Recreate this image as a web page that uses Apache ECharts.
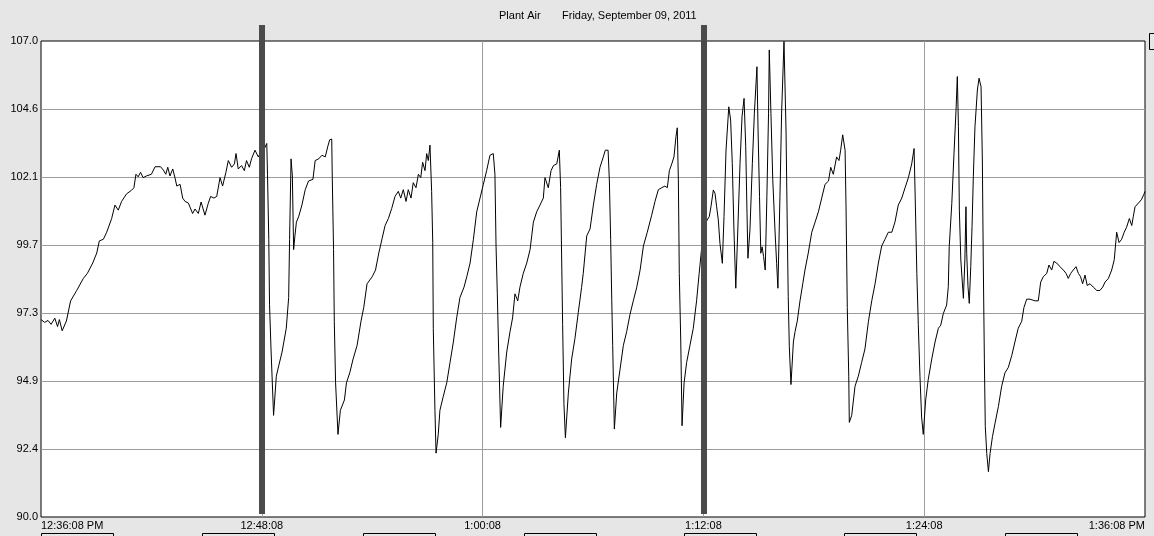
<!DOCTYPE html>
<html>
<head>
<meta charset="utf-8">
<script src="https://cdn.jsdelivr.net/npm/echarts/dist/echarts.min.js"></script>
<style>
html,body{margin:0;padding:0;background:#e6e6e6;}
#chart{width:1154px;height:536px;}
</style>
</head>
<body>
<div id="chart"></div>
<script>
// ---- data (minutes after 12:36:08 PM, pressure) ----
const minutes = [
0.00,0.20,0.38,0.55,0.75,0.90,1.00,1.15,1.38,1.61,1.94,2.30,2.52,2.81,3.03,3.17,3.39,3.57,3.84,4.02,
4.20,4.38,4.65,4.92,5.05,5.16,5.28,5.41,5.55,5.73,6.00,6.20,6.50,6.65,6.78,6.89,7.01,7.16,7.28,7.38,
7.56,7.70,7.83,8.01,8.24,8.37,8.55,8.70,8.91,9.09,9.22,9.40,9.55,9.73,9.87,10.05,10.18,10.36,10.51,10.60,
10.72,10.90,11.05,11.17,11.32,11.44,11.63,11.81,11.96,12.10,12.27,12.31,12.38,12.42,12.50,12.64,12.79,12.92,13.10,13.33,
13.46,13.51,13.59,13.66,13.73,13.80,13.88,14.00,14.18,14.36,14.54,14.78,14.90,15.09,15.27,15.45,15.58,15.69,15.80,15.83,
15.90,15.94,16.01,16.14,16.27,16.49,16.60,16.78,16.96,17.18,17.39,17.54,17.72,18.00,18.18,18.36,18.54,18.70,18.88,19.06,
19.24,19.42,19.55,19.69,19.84,19.96,20.11,20.23,20.38,20.51,20.64,20.74,20.87,20.96,21.05,21.14,21.23,21.29,21.32,21.41,
21.47,21.59,21.68,21.86,22.05,22.23,22.41,22.59,22.77,22.99,23.14,23.32,23.50,23.68,23.86,24.04,24.22,24.40,24.58,24.67,
24.73,24.80,24.87,24.98,25.12,25.31,25.49,25.63,25.76,25.91,26.03,26.21,26.40,26.58,26.76,26.94,27.12,27.30,27.39,27.57,
27.72,27.85,28.03,28.17,28.24,28.30,28.35,28.42,28.50,28.66,28.84,29.02,29.20,29.38,29.47,29.66,29.84,30.02,30.20,30.38,
30.56,30.67,30.82,30.89,30.96,31.02,31.07,31.16,31.29,31.47,31.65,31.83,32.01,32.19,32.38,32.56,32.74,32.95,33.19,33.37,
33.55,33.73,33.91,34.04,34.15,34.28,34.40,34.51,34.58,34.64,34.69,34.77,34.84,34.95,35.09,35.27,35.45,35.63,35.77,35.95,
36.10,36.21,36.32,36.41,36.54,36.63,36.72,36.81,36.90,37.03,37.12,37.23,37.38,37.48,37.57,37.66,37.76,37.87,37.99,38.10,
38.21,38.30,38.37,38.42,38.53,38.66,38.77,38.91,38.97,39.05,39.12,39.19,39.27,39.36,39.45,39.54,39.58,39.67,39.77,39.89,
39.98,40.05,40.16,40.25,40.38,40.49,40.56,40.61,40.67,40.76,40.89,40.98,41.10,41.25,41.40,41.52,41.70,41.89,42.07,42.25,
42.43,42.61,42.80,42.92,43.06,43.24,43.37,43.46,43.57,43.70,43.75,43.82,43.90,43.93,44.06,44.24,44.42,44.60,44.78,44.97,
45.15,45.33,45.51,45.69,45.87,46.05,46.24,46.41,46.59,46.78,46.96,47.14,47.32,47.45,47.52,47.60,47.68,47.77,47.86,47.95,
48.08,48.22,48.41,48.59,48.77,48.90,49.04,49.22,49.31,49.36,49.50,49.62,49.73,49.80,49.86,49.91,49.99,50.10,50.13,50.21,
50.27,50.31,50.38,50.45,50.53,50.60,50.67,50.76,50.89,50.98,51.09,51.16,51.21,51.27,51.32,51.40,51.49,51.58,51.71,51.85,
52.03,52.21,52.39,52.57,52.76,52.93,53.11,53.30,53.42,53.57,53.75,54.02,54.20,54.33,54.47,54.66,54.78,54.93,55.05,55.20,
55.38,55.56,55.71,55.83,55.96,56.10,56.25,56.38,56.50,56.61,56.74,56.86,57.01,57.19,57.38,57.55,57.70,57.83,58.01,58.19,
58.33,58.46,58.59,58.73,58.87,59.00,59.15,59.28,59.36,59.46,59.64,59.80,59.93,60.00
];
const pressure = [
97.05,96.95,97.02,96.88,97.10,96.80,97.05,96.65,97.00,97.72,98.09,98.52,98.70,99.07,99.43,99.86,99.92,100.17,100.66,101.14,
100.96,101.27,101.54,101.67,101.76,102.24,102.15,102.31,102.12,102.18,102.24,102.51,102.51,102.39,102.24,102.49,102.18,102.43,102.12,101.82,
101.88,101.39,101.27,101.21,100.84,101.00,100.84,101.25,100.78,101.20,101.45,101.39,101.45,102.12,101.82,102.31,102.73,102.49,102.61,102.98,
102.43,102.55,102.37,102.73,102.49,102.79,103.10,102.86,103.05,103.10,103.34,102.24,99.92,97.60,96.00,93.63,95.03,95.40,95.89,96.74,
97.84,99.92,102.79,102.18,99.55,100.04,100.53,100.72,101.14,101.69,102.00,102.06,102.73,102.79,102.92,102.86,103.22,103.47,103.50,102.12,
99.55,96.99,94.79,92.95,93.81,94.18,94.79,95.15,95.64,96.13,96.99,97.48,98.33,98.58,98.82,99.43,99.95,100.41,100.66,101.02,
101.45,101.63,101.39,101.69,101.27,101.69,101.39,101.94,101.76,102.24,102.12,102.67,102.37,102.98,102.73,103.28,101.63,99.80,96.74,93.81,
92.28,92.95,93.81,94.30,94.79,95.52,96.25,97.11,97.84,98.21,98.58,99.07,99.92,100.90,101.39,101.88,102.37,102.92,102.98,102.24,
99.68,97.97,96.00,93.20,94.67,95.89,96.62,97.11,97.97,97.72,98.21,98.70,99.07,99.55,100.53,100.90,101.14,101.39,102.12,101.76,
102.37,102.55,102.61,103.10,101.76,99.07,96.87,94.05,92.83,94.43,95.64,96.38,97.30,98.20,98.70,100.04,100.29,101.14,101.88,102.49,
102.86,103.10,103.10,102.00,99.92,97.72,96.13,93.14,94.43,95.28,96.13,96.62,97.23,97.72,98.21,98.82,99.68,100.17,100.78,101.27,
101.69,101.76,101.82,101.76,102.37,102.61,102.86,103.59,103.90,102.00,98.70,96.25,93.26,94.79,95.52,96.13,96.74,97.72,98.70,99.90,
100.50,100.61,100.73,101.08,101.68,101.56,101.08,100.61,99.77,99.06,100.73,103.11,104.65,104.18,102.63,100.25,98.17,100.25,102.63,104.30,
104.95,103.23,100.85,99.24,100.25,102.63,104.42,106.08,103.82,101.44,99.42,99.65,99.30,98.82,101.44,104.42,106.68,104.42,102.04,100.25,
99.06,98.17,101.44,104.42,106.98,103.82,100.25,97.87,96.08,94.73,96.25,96.62,96.99,97.72,98.33,98.82,99.43,100.17,100.53,100.90,
101.39,101.88,102.00,102.49,102.24,102.86,102.73,103.10,103.65,103.10,101.14,97.48,95.03,93.38,93.63,94.67,95.03,95.52,96.00,96.99,
97.72,98.33,99.07,99.68,99.92,100.17,100.17,100.53,101.14,101.39,101.76,102.12,102.61,103.16,101.14,98.70,96.87,95.03,93.57,92.95,
94.18,94.91,95.64,96.25,96.74,96.85,97.27,97.57,98.23,99.65,101.20,102.99,104.54,105.73,103.94,100.96,99.18,98.11,97.81,99.18,
101.08,99.42,98.23,97.63,98.94,100.37,102.15,103.94,105.25,105.67,105.37,102.75,99.18,95.61,93.23,92.27,91.62,92.27,92.87,93.35,
93.94,94.67,95.15,95.34,95.77,96.25,96.74,96.99,97.48,97.78,97.78,97.72,97.72,98.39,98.58,98.70,99.00,98.82,99.13,99.07,
98.94,98.82,98.70,98.52,98.70,98.82,98.94,98.70,98.58,98.33,98.64,98.27,98.33,98.21,98.09,98.09,98.21,98.39,98.52,98.82,
99.19,100.17,99.80,99.92,100.17,100.35,100.66,100.41,100.72,101.08,101.21,101.33,101.51,101.63
];
const xTickLabels = ['12:36:08 PM', '12:48:08', '1:00:08', '1:12:08', '1:24:08', '1:36:08 PM'];
const yTickLabels = ['90.0', '92.4', '94.9', '97.3', '99.7', '102.1', '104.6', '107.0'];
const markerMinutes = [12, 36];
const titleParts = ['Plant Air', 'Friday, September 09, 2011'];

// ---- scale settings ----
const X_MIN = 0, X_MAX = 60, X_STEP = 12;
const Y_MIN = 90, Y_MAX = 107, Y_STEP = (Y_MAX - Y_MIN) / (yTickLabels.length - 1);

const FONT = 'Liberation Sans, Arial, sans-serif';
const chart = echarts.init(document.getElementById('chart'), null, {renderer: 'canvas'});

const seriesData = minutes.map((m, i) => [m, pressure[i]]);
const boxLefts = [41, 202, 363, 524, 684, 844, 1005];

const option = {
  backgroundColor: '#e6e6e6',
  animation: false,
  title: [
    {text: titleParts[0], left: 494, top: 5, textStyle: {fontSize: 11, fontWeight: 'normal', color: '#000', fontFamily: FONT}},
    {text: titleParts[1], left: 557, top: 5, textStyle: {fontSize: 11, fontWeight: 'normal', color: '#000', fontFamily: FONT}}
  ],
  grid: [
    {left: 41, right: 9, top: 41, bottom: 19, show: true, backgroundColor: '#ffffff', borderColor: '#000', borderWidth: 1},
    {left: 41, right: 9, top: 25, bottom: 22, show: false}
  ],
  xAxis: [
    {
      type: 'value', gridIndex: 0, min: X_MIN, max: X_MAX, interval: X_STEP,
      axisLine: {show: false}, axisTick: {show: false},
      splitLine: {show: true, showMinLine: false, showMaxLine: false, lineStyle: {color: '#9c9c9c', width: 1}},
      axisLabel: {
        margin: 3, fontSize: 11, color: '#000', fontFamily: FONT,
        alignMinLabel: 'left', alignMaxLabel: 'right',
        formatter: v => xTickLabels[Math.round((v - X_MIN) / X_STEP)] || ''
      }
    },
    {type: 'value', gridIndex: 1, min: X_MIN, max: X_MAX, show: false}
  ],
  yAxis: [
    {
      type: 'value', gridIndex: 0, min: Y_MIN, max: Y_MAX, interval: Y_STEP,
      axisLine: {show: false}, axisTick: {show: false},
      splitLine: {show: true, showMinLine: false, showMaxLine: false, lineStyle: {color: '#9c9c9c', width: 1}},
      axisLabel: {
        margin: 3, fontSize: 11, color: '#000', fontFamily: FONT,
        formatter: v => yTickLabels[Math.round((v - Y_MIN) / Y_STEP)] || ''
      }
    },
    {type: 'value', gridIndex: 1, min: 0, max: 1, show: false}
  ],
  series: [
    {
      type: 'line', xAxisIndex: 0, yAxisIndex: 0, data: seriesData,
      showSymbol: false, symbol: 'none', silent: true, z: 2,
      lineStyle: {color: '#000', width: 1}
    },
    {
      type: 'line', xAxisIndex: 1, yAxisIndex: 1, data: [], silent: true, z: 5,
      markLine: {
        silent: true, symbol: ['none', 'none'], label: {show: false},
        lineStyle: {color: '#4b4b4b', width: 6, type: 'solid'},
        emphasis: {disabled: true},
        data: markerMinutes.map(m => ({xAxis: m}))
      }
    }
  ],
  graphic: boxLefts.map(l => ({
    type: 'rect', left: l, top: 533, silent: true,
    shape: {width: 72, height: 12},
    style: {fill: '#e6e6e6', stroke: '#000', lineWidth: 1}
  })).concat([{
    type: 'rect', left: 1149, top: 33, silent: true,
    shape: {width: 10, height: 16},
    style: {fill: '#e6e6e6', stroke: '#000', lineWidth: 1}
  }])
};
chart.setOption(option);
</script>
</body>
</html>
